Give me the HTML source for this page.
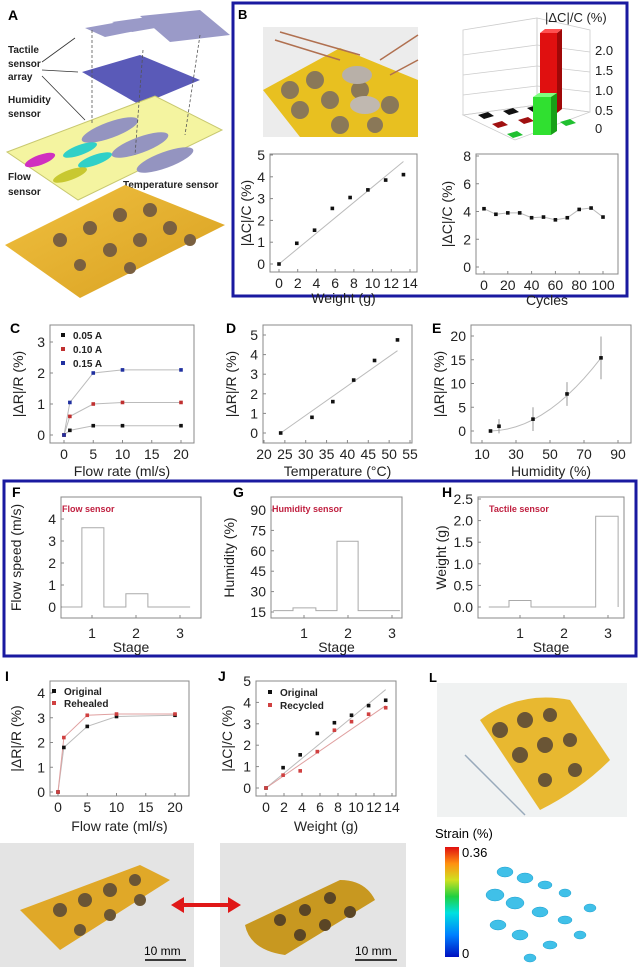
<!DOCTYPE html>
<html><head><meta charset="utf-8">
<style>
html,body{margin:0;padding:0;background:#fff;}
svg{display:block;font-family:"Liberation Sans",sans-serif;}
</style></head>
<body>
<svg id="fig" width="640" height="968" viewBox="0 0 640 968" xmlns="http://www.w3.org/2000/svg">
<defs>
<linearGradient id="cbar" x1="0" y1="1" x2="0" y2="0">
<stop offset="0" stop-color="#0010c0"/><stop offset="0.2" stop-color="#0080ff"/><stop offset="0.4" stop-color="#00e0e0"/><stop offset="0.55" stop-color="#20d040"/><stop offset="0.7" stop-color="#d0e020"/><stop offset="0.85" stop-color="#ff9010"/><stop offset="1" stop-color="#e01010"/>
</linearGradient>
<linearGradient id="yel" x1="0" y1="0" x2="1" y2="1"><stop offset="0" stop-color="#f0c040"/><stop offset="1" stop-color="#d8a020"/></linearGradient>
</defs>

<!-- Panel A -->
<g>
<text x="8" y="20" font-size="14" font-weight="bold">A</text>
<polygon points="85,28 130,20 150,28 105,37" fill="#9a9ac8"/>
<polygon points="112,22 170,14 190,22 132,32" fill="#9a9ac8"/>
<polygon points="140,16 200,10 230,35 170,42" fill="#9a9ac8"/>
<polygon points="82,72 140,55 200,80 140,105" fill="#5a5ab8"/>
<polygon points="7,152 155,96 222,130 78,200" fill="#f4f4a0" stroke="#c8c870"/>
<g fill="#9494c0"><ellipse cx="110" cy="130" rx="30" ry="8" transform="rotate(-20 110 130)"/><ellipse cx="140" cy="145" rx="30" ry="8" transform="rotate(-20 140 145)"/><ellipse cx="165" cy="160" rx="30" ry="8" transform="rotate(-20 165 160)"/></g>
<g fill="#30d0c8"><ellipse cx="80" cy="150" rx="18" ry="5" transform="rotate(-20 80 150)"/><ellipse cx="95" cy="160" rx="18" ry="5" transform="rotate(-20 95 160)"/></g>
<g fill="#d030c0"><ellipse cx="40" cy="160" rx="16" ry="5" transform="rotate(-20 40 160)"/></g>
<g fill="#c8c830"><ellipse cx="70" cy="175" rx="18" ry="5" transform="rotate(-20 70 175)"/></g>
<g stroke="#555" stroke-dasharray="3,2" stroke-width="0.8"><line x1="92" y1="30" x2="92" y2="125"/><line x1="143" y1="50" x2="135" y2="155"/><line x1="200" y1="35" x2="185" y2="135"/></g>
<g font-size="10" font-weight="bold" fill="#222">
<text x="8" y="53">Tactile</text><text x="8" y="67">sensor</text><text x="8" y="80">array</text>
<text x="8" y="103">Humidity</text><text x="8" y="117">sensor</text>
<text x="8" y="180">Flow</text><text x="8" y="195">sensor</text>
<text x="123" y="188">Temperature sensor</text></g>
<g stroke="#333" stroke-width="0.8"><line x1="42" y1="62" x2="75" y2="38"/><line x1="42" y1="70" x2="78" y2="72"/><line x1="42" y1="76" x2="85" y2="120"/></g>
<polygon points="5,245 125,185 225,225 80,298" fill="url(#yel)"/>
<g fill="#7a6040"><circle cx="60" cy="240" r="7"/><circle cx="90" cy="228" r="7"/><circle cx="120" cy="215" r="7"/><circle cx="150" cy="210" r="7"/><circle cx="110" cy="250" r="7"/><circle cx="140" cy="240" r="7"/><circle cx="170" cy="228" r="7"/><circle cx="80" cy="265" r="6"/><circle cx="130" cy="268" r="6"/><circle cx="190" cy="240" r="6"/></g>
</g>

<!-- Panel B box -->
<rect x="233" y="3" width="394" height="293" fill="none" stroke="#1a1aa0" stroke-width="3"/>
<text x="238" y="19" font-size="13" font-weight="bold">B</text>
<g>
<rect x="263" y="27" width="155" height="110" fill="#ececec"/>
<polygon points="263,90 340,48 418,80 418,137 300,137" fill="#e8c020"/>
<g stroke="#b07050" stroke-width="1.5"><line x1="275" y1="40" x2="340" y2="60"/><line x1="280" y1="32" x2="360" y2="55"/><line x1="418" y1="35" x2="380" y2="60"/><line x1="418" y1="60" x2="390" y2="75"/></g>
<g fill="#8a7858"><circle cx="290" cy="90" r="9"/><circle cx="315" cy="80" r="9"/><circle cx="300" cy="110" r="9"/><circle cx="330" cy="100" r="9"/><circle cx="360" cy="90" r="9"/><circle cx="390" cy="105" r="9"/><circle cx="340" cy="125" r="9"/><circle cx="375" cy="125" r="8"/></g>
<ellipse cx="357" cy="75" rx="15" ry="9" fill="#b8b0a8"/><ellipse cx="365" cy="105" rx="15" ry="9" fill="#c0b8b0"/>
</g>
<g>
<g stroke="#ccc" stroke-width="0.8" fill="none"><polygon points="463,30 537,18 537,105 463,115"/><polygon points="537,18 590,30 590,112 537,105"/>
<line x1="463" y1="55" x2="537" y2="45"/><line x1="463" y1="75" x2="537" y2="66"/><line x1="463" y1="95" x2="537" y2="86"/>
<line x1="537" y1="45" x2="590" y2="52"/><line x1="537" y1="66" x2="590" y2="72"/><line x1="537" y1="86" x2="590" y2="92"/>
<polygon points="463,115 537,105 590,112 515,140"/></g>
<polygon points="478,115 488,112 494,116 484,119" fill="#111"/><polygon points="503,111 513,108 519,112 509,115" fill="#111"/><polygon points="527,108 537,105 543,109 533,112" fill="#111"/>
<polygon points="492,124 502,121 508,125 498,128" fill="#a01010"/><polygon points="518,120 528,117 534,121 524,124" fill="#a01010"/>
<polygon points="507,134 517,131 523,135 513,138" fill="#20c030"/><polygon points="560,122 570,119 576,123 566,126" fill="#20c030"/>
<rect x="540" y="33" width="17" height="80" fill="#e01010"/><polygon points="557,33 562,29 562,109 557,113" fill="#a00808"/><polygon points="540,33 545,29 562,29 557,33" fill="#ff5050"/>
<rect x="533" y="97" width="18" height="38" fill="#30e030"/><polygon points="551,97 557,93 557,131 551,135" fill="#18a018"/><polygon points="533,97 539,93 557,93 551,97" fill="#80ff80"/>
<g font-size="13" fill="#222"><text x="545" y="22">|ΔC|/C (%)</text><text x="595" y="55">2.0</text><text x="595" y="75">1.5</text><text x="595" y="95">1.0</text><text x="595" y="115">0.5</text><text x="595" y="133">0</text></g>
</g>

<!-- Panel K/L photos -->
<g>
<rect x="437" y="683" width="190" height="134" fill="#f0f2f2"/>
<path d="M480,720 Q520,690 570,700 L610,760 Q580,790 540,810 Z" fill="#e8b830"/>
<g fill="#6a5535"><circle cx="500" cy="730" r="8"/><circle cx="525" cy="720" r="8"/><circle cx="550" cy="715" r="7"/><circle cx="520" cy="755" r="8"/><circle cx="545" cy="745" r="8"/><circle cx="570" cy="740" r="7"/><circle cx="545" cy="780" r="7"/><circle cx="575" cy="770" r="7"/></g>
<line x1="465" y1="755" x2="525" y2="815" stroke="#9ab" stroke-width="1.5"/>
</g>
<text x="429" y="682" font-size="13" font-weight="bold">L</text>
<g>
<text x="435" y="838" font-size="13">Strain (%)</text>
<rect x="445" y="847" width="14" height="110" fill="url(#cbar)"/>
<text x="462" y="857" font-size="13">0.36</text><text x="462" y="958" font-size="13">0</text>
</g>
<g fill="#40c0e8" stroke="#20a0d0" stroke-width="0.5">
<ellipse cx="505" cy="872" rx="8" ry="5"/><ellipse cx="525" cy="878" rx="8" ry="5"/><ellipse cx="545" cy="885" rx="7" ry="4"/><ellipse cx="565" cy="893" rx="6" ry="4"/>
<ellipse cx="495" cy="895" rx="9" ry="6"/><ellipse cx="515" cy="903" rx="9" ry="6"/><ellipse cx="540" cy="912" rx="8" ry="5"/><ellipse cx="565" cy="920" rx="7" ry="4"/>
<ellipse cx="498" cy="925" rx="8" ry="5"/><ellipse cx="520" cy="935" rx="8" ry="5"/><ellipse cx="550" cy="945" rx="7" ry="4"/><ellipse cx="580" cy="935" rx="6" ry="4"/>
<ellipse cx="590" cy="908" rx="6" ry="4"/><ellipse cx="530" cy="958" rx="6" ry="4"/>
</g>
<text x="4" y="864" font-size="13" font-weight="bold">K</text>
<g>
<rect x="0" y="843" width="194" height="124" fill="#e4e4e4"/>
<polygon points="20,910 140,865 170,880 60,950" fill="#e0a828"/>
<g fill="#6a5535"><circle cx="60" cy="910" r="7"/><circle cx="85" cy="900" r="7"/><circle cx="110" cy="890" r="7"/><circle cx="135" cy="880" r="6"/><circle cx="80" cy="930" r="6"/><circle cx="110" cy="915" r="6"/><circle cx="140" cy="900" r="6"/></g>
<line x1="145" y1="960" x2="186" y2="960" stroke="#000" stroke-width="1.5"/><text x="144" y="955" font-size="12">10 mm</text>
</g>
<g>
<rect x="220" y="843" width="186" height="124" fill="#e4e4e4"/>
<path d="M245,925 L340,880 Q365,880 375,900 L285,955 Q250,950 245,925 Z" fill="#c89820"/>
<g fill="#5a4525"><circle cx="280" cy="920" r="6"/><circle cx="305" cy="910" r="6"/><circle cx="330" cy="898" r="6"/><circle cx="300" cy="935" r="6"/><circle cx="325" cy="925" r="6"/><circle cx="350" cy="912" r="6"/></g>
<line x1="355" y1="960" x2="397" y2="960" stroke="#000" stroke-width="1.5"/><text x="355" y="955" font-size="12">10 mm</text>
</g>
<g fill="#e01818">
<rect x="180" y="903" width="52" height="4"/><polygon points="171,905 184,897 184,913"/><polygon points="241,905 228,897 228,913"/>
</g>

<!-- F-H frame -->
<rect x="4" y="481" width="632" height="175" fill="none" stroke="#1a1aa0" stroke-width="3"/>
<g id="charts"></g>
</svg>
<script>
// ---- data arrays ----
const bWeightX = [0, 1.9, 3.8, 5.7, 7.6, 9.5, 11.4, 13.3];
const bWeightY = [0, 0.95, 1.55, 2.55, 3.05, 3.4, 3.85, 4.1];
const bWeightFit = [0, 4.7];
const bCycleX = [0, 10, 20, 30, 40, 50, 60, 70, 80, 90, 100];
const bCycleY = [4.2, 3.8, 3.9, 3.9, 3.55, 3.6, 3.4, 3.55, 4.15, 4.25, 3.6];
const cFlowX = [0, 1, 5, 10, 20];
const cI005 = [0, 0.15, 0.3, 0.3, 0.3];
const cI010 = [0, 0.6, 1.0, 1.05, 1.05];
const cI015 = [0, 1.05, 2.0, 2.1, 2.1];
const dTempX = [24, 31.5, 36.5, 41.5, 46.5, 52];
const dTempY = [0, 0.8, 1.6, 2.7, 3.7, 4.75];
const dFit = [0, 4.2];
const eHumX = [15, 20, 40, 60, 80];
const eHumY = [0, 1, 2.5, 7.8, 15.4];
const eHumErr = [0, 1.5, 2.5, 2.5, 4.5];
const fStageX = [0.32, 0.77, 0.77, 1.27, 1.27, 1.77, 1.77, 2.27, 2.27, 3.23];
const fFlow = [0, 0, 3.6, 3.6, 0, 0, 0.6, 0.6, 0, 0];
const gStageX = [0.3, 0.75, 0.75, 1.27, 1.27, 1.75, 1.75, 2.23, 2.23, 3.18];
const gHum = [16, 16, 18, 18, 16, 16, 67, 67, 16, 16];
const hStageX = [0.29, 0.75, 0.75, 1.25, 1.25, 2.72, 2.72, 3.23, 3.23];
const hWeight = [0, 0, 0.15, 0.15, 0, 0, 2.1, 2.1, 0];
const iFlowX = [0, 1, 5, 10, 20];
const iOriginal = [0, 1.8, 2.65, 3.05, 3.1];
const iRehealed = [0, 2.2, 3.1, 3.15, 3.15];
const jWeightX = [0, 1.9, 3.8, 5.7, 7.6, 9.5, 11.4, 13.3];
const jOriginal = [0, 0.95, 1.55, 2.55, 3.05, 3.4, 3.85, 4.1];
const jRecycled = [0, 0.6, 0.8, 1.7, 2.7, 3.1, 3.45, 3.75];
const jFitOrig = [0, 4.6];
const jFitRec = [0, 3.85];

const NS = 'http://www.w3.org/2000/svg';
const root = document.getElementById('charts');
function mk(tag, attrs, parent) {
  const el = document.createElementNS(NS, tag);
  for (const k in attrs) el.setAttribute(k, attrs[k]);
  (parent || root).appendChild(el);
  return el;
}
function lin(d0, d1, r0, r1) { return v => r0 + (v - d0) * (r1 - r0) / (d1 - d0); }

function axes(cfg) {
  const g = mk('g', {});
  
  
  const fr = mk('rect', {x: cfg.box[0], y: cfg.box[1], width: cfg.box[2] - cfg.box[0], height: cfg.box[3] - cfg.box[1], fill: 'none', stroke: '#888', 'stroke-width': 1}, g);
  
  
  const fs = cfg.fs || 14;
  cfg.xt.forEach(t => {
    const x = cfg.sx(t);
    mk('line', {x1: x, x2: x, y1: cfg.box[3], y2: cfg.box[3] - 3, stroke: '#888'}, g);
    const tx = mk('text', {x: x, y: cfg.box[3] + cfg.xo, 'font-size': fs, 'text-anchor': 'middle', fill: '#222'}, g);
    tx.textContent = t;
    
    
  });
  cfg.yt.forEach(t => {
    const y = cfg.sy(+t);
    mk('line', {x1: cfg.box[0], x2: cfg.box[0] + 3, y1: y, y2: y, stroke: '#888'}, g);
    const ty = mk('text', {x: cfg.box[0] - 5, y: y + 5, 'font-size': fs, 'text-anchor': 'end', fill: '#222'}, g);
    ty.textContent = t;
    
    
  });
  const xt = mk('text', {x: (cfg.box[0] + cfg.box[2]) / 2, y: cfg.box[3] + cfg.to, 'font-size': fs, 'text-anchor': 'middle', fill: '#222'}, g);
  xt.textContent = cfg.xl;
  
  
  const cy = (cfg.box[1] + cfg.box[3]) / 2;
  const yt = mk('text', {x: cfg.ylx, y: cy, 'font-size': fs, 'text-anchor': 'middle', fill: '#222', transform: 'rotate(-90 ' + cfg.ylx + ' ' + cy + ')'}, g);
  yt.textContent = cfg.yl;
  
  
  if (cfg.letter) {
    const lt = mk('text', {x: cfg.letter[0], y: cfg.letter[1], 'font-size': 14, 'font-weight': 'bold'}, g);
    lt.textContent = cfg.letter[2];
    
    
  }
  return g;
}
function polyline(g, xs, ys, sx, sy, color, w) {
  const pts = xs.map((x, i) => sx(x) + ',' + sy(ys[i])).join(' ');
  const p = mk('polyline', {points: pts, fill: 'none', stroke: color, 'stroke-width': w || 1}, g);
  
  
  return p;
}
function points(g, xs, ys, sx, sy, color, name) {
  xs.forEach((x, i) => {
    const r = mk('rect', {x: sx(x) - 1.8, y: sy(ys[i]) - 1.8, width: 3.6, height: 3.6, fill: color}, g);
    
    
  });
}
function legend(g, x, y, color, label) {
  const m = mk('rect', {x: x - 2, y: y - 6, width: 4, height: 4, fill: color}, g);
  
  
  const t = mk('text', {x: x + 10, y: y, 'font-size': 10, 'font-weight': 'bold', fill: '#222'}, g);
  t.textContent = label;
  
  
}

// B weight
{
  const sx = lin(0, 14, 279, 410), sy = lin(0, 5, 264, 155);
  const g = axes({name: 'chart-b-weight', box: [270, 154, 417, 272], sx, sy, xt: [0,2,4,6,8,10,12,14], yt: ['0','1','2','3','4','5'], xo: 16, to: 31, xl: 'Weight (g)', yl: '|ΔC|/C (%)', ylx: 251, fs: 14});
  polyline(g, [0, 13.3], bWeightFit, sx, sy, '#bbb');
  points(g, bWeightX, bWeightY, sx, sy, '#111', 'weight-point');
}
// B cycles
{
  const sx = lin(0, 100, 484, 603), sy = lin(0, 8, 267, 156);
  const g = axes({name: 'chart-b-cycles', box: [476, 154, 618, 274], sx, sy, xt: [0,20,40,60,80,100], yt: ['0','2','4','6','8'], xo: 16, to: 31, xl: 'Cycles', yl: '|ΔC|/C (%)', ylx: 452, fs: 14});
  polyline(g, bCycleX, bCycleY, sx, sy, '#bbb');
  points(g, bCycleX, bCycleY, sx, sy, '#111', 'cycle-point');
}
// C
{
  const sx = lin(0, 20, 64, 181), sy = lin(0, 3, 435, 342);
  const g = axes({name: 'chart-c-flow', box: [50, 325, 194, 443], sx, sy, xt: [0,5,10,15,20], yt: ['0','1','2','3'], xo: 16, to: 33, xl: 'Flow rate (ml/s)', yl: '|ΔR|/R (%)', ylx: 23, letter: [10, 333, 'C']});
  polyline(g, cFlowX, cI005, sx, sy, '#bbb');
  polyline(g, cFlowX, cI010, sx, sy, '#bbb');
  polyline(g, cFlowX, cI015, sx, sy, '#bbb');
  points(g, cFlowX, cI005, sx, sy, '#111', 'point-0.05A');
  points(g, cFlowX, cI010, sx, sy, '#c03030', 'point-0.10A');
  points(g, cFlowX, cI015, sx, sy, '#2030a0', 'point-0.15A');
  legend(g, 63, 339, '#111', '0.05 A');
  legend(g, 63, 353, '#c03030', '0.10 A');
  legend(g, 63, 367, '#2030a0', '0.15 A');
}
// D
{
  const sx = lin(20, 55, 264, 410), sy = lin(0, 5, 433, 335);
  const g = axes({name: 'chart-d-temperature', box: [263, 325, 412, 443], sx, sy, xt: [20,25,30,35,40,45,50,55], yt: ['0','1','2','3','4','5'], xo: 16, to: 33, xl: 'Temperature (°C)', yl: '|ΔR|/R (%)', ylx: 236, letter: [226, 333, 'D']});
  polyline(g, [24, 52], dFit, sx, sy, '#bbb');
  points(g, dTempX, dTempY, sx, sy, '#111', 'temperature-point');
}
// E
{
  const sx = lin(10, 90, 482, 618), sy = lin(0, 20, 431, 336);
  const g = axes({name: 'chart-e-humidity', box: [471, 325, 631, 443], sx, sy, xt: [10,30,50,70,90], yt: ['0','5','10','15','20'], xo: 16, to: 33, xl: 'Humidity (%)', yl: '|ΔR|/R (%)', ylx: 444, fs: 14, letter: [432, 333, 'E']});
  const cx = [], cyv = [];
  for (let h = 15; h <= 80; h += 5) { cx.push(h); cyv.push(0.00355 * (h - 15) * (h - 15) + 0.006 * (h - 15)); }
  polyline(g, cx, cyv, sx, sy, '#bbb');
  eHumX.forEach((x, i) => {
    const l = mk('line', {x1: sx(x), x2: sx(x), y1: sy(eHumY[i] - eHumErr[i]), y2: sy(eHumY[i] + eHumErr[i]), stroke: '#999'}, g);
    
    
  });
  points(g, eHumX, eHumY, sx, sy, '#111', 'humidity-point');
}
// F
{
  const sx = lin(1, 2, 92, 136), sy = lin(0, 4, 607, 519);
  const g = axes({name: 'chart-f-flow-sensor', box: [61, 497, 201, 618], sx, sy, xt: [1,2,3], yt: ['0','1','2','3','4'], xo: 20, to: 34, xl: 'Stage', yl: 'Flow speed (m/s)', ylx: 21, letter: [12, 497, 'F']});
  polyline(g, fStageX, fFlow, sx, sy, '#aaa');
  const t = mk('text', {x: 62, y: 512, 'font-size': 9, 'font-weight': 'bold', fill: '#c02040'}, g);
  t.textContent = 'Flow sensor';
  
  
}
// G
{
  const sx = lin(1, 2, 304, 348), sy = lin(15, 90, 612, 510);
  const g = axes({name: 'chart-g-humidity-sensor', box: [271, 497, 402, 618], sx, sy, xt: [1,2,3], yt: ['15','30','45','60','75','90'], xo: 20, to: 34, xl: 'Stage', yl: 'Humidity (%)', ylx: 234, letter: [233, 497, 'G']});
  polyline(g, gStageX, gHum, sx, sy, '#aaa');
  const t = mk('text', {x: 272, y: 512, 'font-size': 9, 'font-weight': 'bold', fill: '#c02040'}, g);
  t.textContent = 'Humidity sensor';
  
  
}
// H
{
  const sx = lin(1, 2, 520, 564), sy = lin(0, 2.5, 607, 499);
  const g = axes({name: 'chart-h-tactile-sensor', box: [478, 497, 624, 618], sx, sy, xt: [1,2,3], yt: ['0.0','0.5','1.0','1.5','2.0','2.5'], xo: 20, to: 34, xl: 'Stage', yl: 'Weight (g)', ylx: 446, letter: [442, 497, 'H']});
  polyline(g, hStageX, hWeight, sx, sy, '#aaa');
  const t = mk('text', {x: 489, y: 512, 'font-size': 9, 'font-weight': 'bold', fill: '#c02040'}, g);
  t.textContent = 'Tactile sensor';
  
  
}
// I
{
  const sx = lin(0, 20, 58, 175), sy = lin(0, 4, 792, 693);
  const g = axes({name: 'chart-i-rehealed', box: [50, 681, 189, 796], sx, sy, xt: [0,5,10,15,20], yt: ['0','1','2','3','4'], xo: 16, to: 35, xl: 'Flow rate (ml/s)', yl: '|ΔR|/R (%)', ylx: 21, letter: [5, 681, 'I']});
  polyline(g, iFlowX, iOriginal, sx, sy, '#bbb');
  polyline(g, iFlowX, iRehealed, sx, sy, '#e0a0a0');
  points(g, iFlowX, iOriginal, sx, sy, '#111', 'original-point');
  points(g, iFlowX, iRehealed, sx, sy, '#d04040', 'rehealed-point');
  legend(g, 54, 695, '#111', 'Original');
  legend(g, 54, 707, '#d04040', 'Rehealed');
}
// J
{
  const sx = lin(0, 14, 266, 392), sy = lin(0, 5, 788, 681);
  const g = axes({name: 'chart-j-recycled', box: [256, 681, 396, 796], sx, sy, xt: [0,2,4,6,8,10,12,14], yt: ['0','1','2','3','4','5'], xo: 16, to: 35, xl: 'Weight (g)', yl: '|ΔC|/C (%)', ylx: 232, letter: [218, 681, 'J']});
  polyline(g, [0, 13.3], jFitOrig, sx, sy, '#bbb');
  polyline(g, [0, 13.3], jFitRec, sx, sy, '#e0a0a0');
  points(g, jWeightX, jOriginal, sx, sy, '#111', 'original-point');
  points(g, jWeightX, jRecycled, sx, sy, '#d04040', 'recycled-point');
  legend(g, 270, 696, '#111', 'Original');
  legend(g, 270, 709, '#d04040', 'Recycled');
}
</script>
</body></html>
